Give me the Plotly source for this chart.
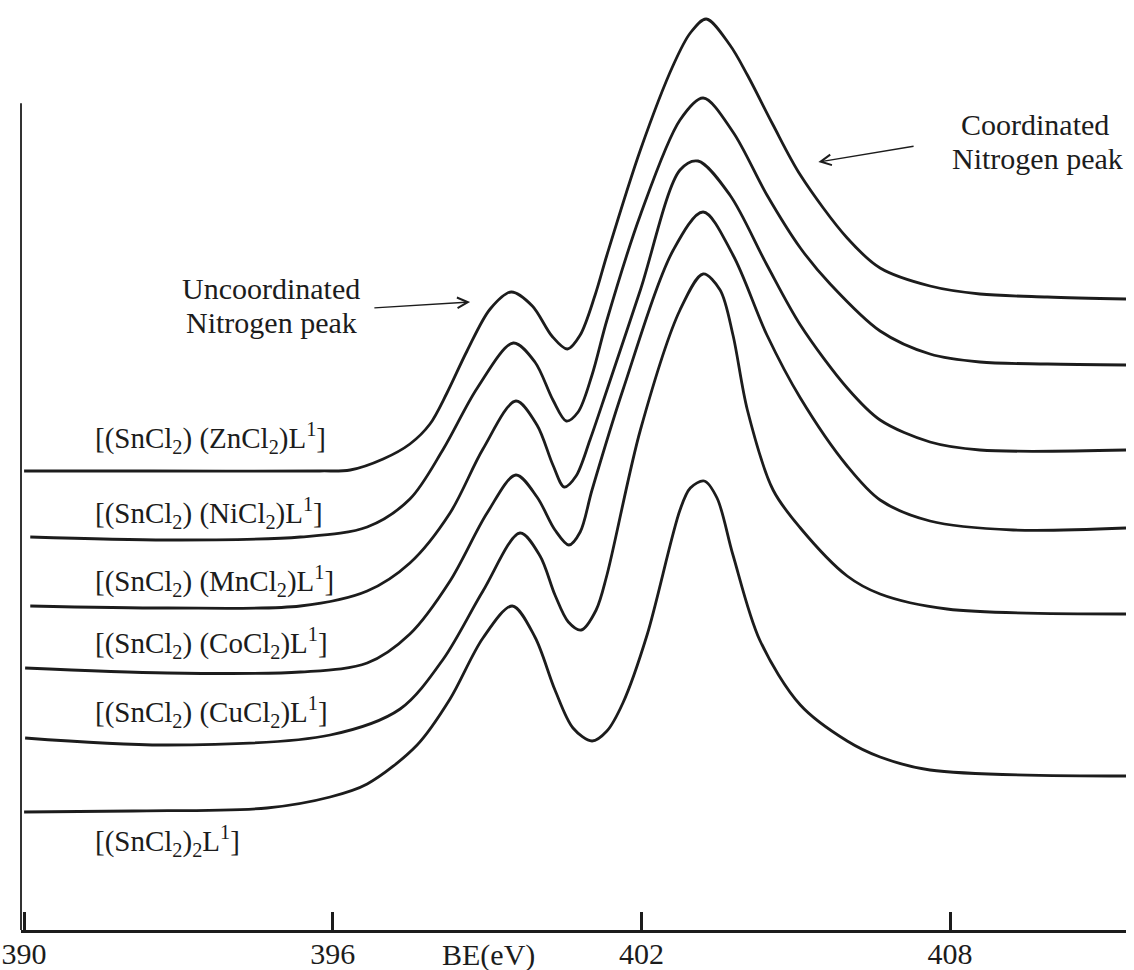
import plotly.graph_objects as go

# ---- data (binding energy in eV, intensity in arbitrary units, stacked) ----
be_zn = [390.00, 392.45, 395.75, 396.34, 396.98, 397.50, 397.89, 398.22, 398.61, 399.06, 399.47, 399.88,
         400.26, 400.56, 400.81, 401.10, 401.33, 401.98, 402.62, 402.95, 403.26, 403.72, 404.06, 404.56,
         405.09, 406.00, 406.64, 407.61, 408.58, 409.89, 411.42]
i_zn = [459, 459, 459, 460, 471, 486, 506, 537, 579, 621, 638, 624,
        594, 581, 595, 635, 675, 780, 865, 897, 911, 885, 855, 805,
        755, 692, 662, 644, 636, 633, 631]

be_ni = [390.12, 392.78, 395.37, 396.67, 397.50, 398.15, 398.81, 399.51, 399.93, 400.28, 400.54, 400.77,
         401.04, 401.33, 401.98, 402.75, 403.20, 403.78, 404.44, 405.09, 405.67, 406.64, 407.61, 408.58,
         409.89, 411.42]
i_ni = [393, 390, 393, 403, 431, 481, 542, 587, 568, 530, 509, 518,
        555, 610, 715, 810, 832, 798, 735, 682, 646, 599, 576, 568,
        566, 565]

be_mn = [390.12, 392.78, 395.37, 396.67, 397.50, 398.28, 398.92, 399.56, 399.97, 400.28, 400.50, 400.73,
         401.00, 401.33, 401.98, 402.75, 403.10, 403.72, 404.44, 405.09, 406.00, 406.64, 407.61, 408.58,
         411.42]
i_mn = [324, 322, 324, 339, 367, 417, 481, 529, 505, 465, 443, 454,
        490, 540, 640, 760, 769, 735, 665, 605, 542, 510, 488, 480,
        480]

be_co = [390.02, 392.78, 395.37, 396.67, 397.50, 398.28, 399.00, 399.56, 399.97, 400.32, 400.59, 400.81,
         401.04, 401.64, 402.62, 403.20, 403.78, 404.44, 405.09, 406.00, 406.64, 407.61, 409.23, 411.42]
i_co = [262, 257, 258, 267, 296, 349, 417, 455, 433, 400, 385, 398,
        440, 540, 680, 718, 675, 595, 532, 464, 430, 409, 400, 402]

be_cu = [390.02, 392.78, 395.95, 397.31, 398.15, 398.92, 399.64, 400.03, 400.32, 400.58, 400.83, 401.12,
         401.33, 401.98, 402.75, 403.20, 403.53, 403.78, 404.06, 404.56, 405.09, 406.00, 406.64, 407.94,
         411.42]
i_cu = [192, 185, 195, 221, 271, 339, 397, 374, 335, 308, 300, 320,
        355, 500, 620, 656, 640, 595, 520, 440, 402, 354, 336, 321,
        316]

be_sn = [390.00, 392.12, 394.72, 395.95, 396.67, 397.64, 398.28, 398.92, 399.49, 399.93, 400.32, 400.67,
         401.04, 401.33, 401.64, 402.11, 402.75, 402.95, 403.22, 403.47, 403.78, 404.30, 405.09, 406.00,
         406.64, 407.61, 411.42]
i_sn = [118, 119, 122, 133, 146, 185, 231, 292, 324, 293, 240, 202,
        189, 199, 227, 295, 420, 442, 449, 432, 375, 290, 225, 189,
        173, 160, 154]

series = [
    ("[(SnCl<sub>2</sub>) (ZnCl<sub>2</sub>)L<sup>1</sup>]", be_zn, i_zn, 492),
    ("[(SnCl<sub>2</sub>) (NiCl<sub>2</sub>)L<sup>1</sup>]", be_ni, i_ni, 417),
    ("[(SnCl<sub>2</sub>) (MnCl<sub>2</sub>)L<sup>1</sup>]", be_mn, i_mn, 349),
    ("[(SnCl<sub>2</sub>) (CoCl<sub>2</sub>)L<sup>1</sup>]", be_co, i_co, 287),
    ("[(SnCl<sub>2</sub>) (CuCl<sub>2</sub>)L<sup>1</sup>]", be_cu, i_cu, 218),
    ("[(SnCl<sub>2</sub>)<sub>2</sub>L<sup>1</sup>]", be_sn, i_sn, 89),
]

tick_vals = [390, 396, 402, 408]
tick_text = ["390", "396", "402", "408"]

INK = "#1c1c1c"
FONT = "Liberation Serif"

fig = go.Figure()
for name, xs, ys, _ in series:
    fig.add_trace(go.Scatter(x=xs, y=ys, mode="lines", name=name,
                             line=dict(color=INK, width=2.8, shape="spline", smoothing=0.9),
                             showlegend=False, hoverinfo="skip"))

annotations = []
for name, _, _, ly in series:
    annotations.append(dict(x=391.34, y=ly, xref="x", yref="y", text=name, showarrow=False,
                            xanchor="left", yanchor="middle",
                            font=dict(family=FONT, size=29, color=INK)))

# peak annotations
for txt, x, y in [("Uncoordinated", 394.80, 642), ("Nitrogen peak", 394.80, 608),
                  ("Coordinated", 409.65, 806), ("Nitrogen peak", 409.70, 772)]:
    annotations.append(dict(x=x, y=y, xref="x", yref="y", text=txt, showarrow=False,
                            xanchor="center", yanchor="middle",
                            font=dict(family=FONT, size=30, color=INK)))

annotations.append(dict(x=398.67, y=628, ax=396.78, ay=622, xref="x", yref="y", axref="x", ayref="y",
                        text="", showarrow=True, arrowhead=5, arrowsize=1.6, arrowwidth=1.3,
                        arrowcolor=INK))
annotations.append(dict(x=405.44, y=768, ax=407.32, ay=784, xref="x", yref="y", axref="x", ayref="y",
                        text="", showarrow=True, arrowhead=5, arrowsize=1.6, arrowwidth=1.3,
                        arrowcolor=INK))

annotations.append(dict(x=399.02, y=-0.027, xref="x", yref="paper", text="BE(eV)", showarrow=False,
                        xanchor="center", yanchor="middle",
                        font=dict(family=FONT, size=30, color=INK)))

fig.update_layout(
    width=1134, height=970,
    margin=dict(l=21, r=8, t=0, b=40, autoexpand=False),
    paper_bgcolor="white", plot_bgcolor="white",
    annotations=annotations,
    shapes=[dict(type="line", xref="paper", yref="paper", x0=0, x1=0, y0=0, y1=0.889,
                 line=dict(color="#333333", width=2))],
    xaxis=dict(range=[389.94, 411.42], showgrid=False, zeroline=False, automargin=False,
               showline=True, linecolor=INK, linewidth=3,
               ticks="inside", ticklen=18, tickwidth=2.5, tickcolor=INK,
               tickvals=tick_vals, ticktext=tick_text, ticklabeloverflow="allow",
               ticklabelstandoff=-5,
               tickfont=dict(family=FONT, size=30, color=INK)),
    yaxis=dict(range=[0, 930], visible=False, fixedrange=True, automargin=False),
)

fig.write_html("out.html")
